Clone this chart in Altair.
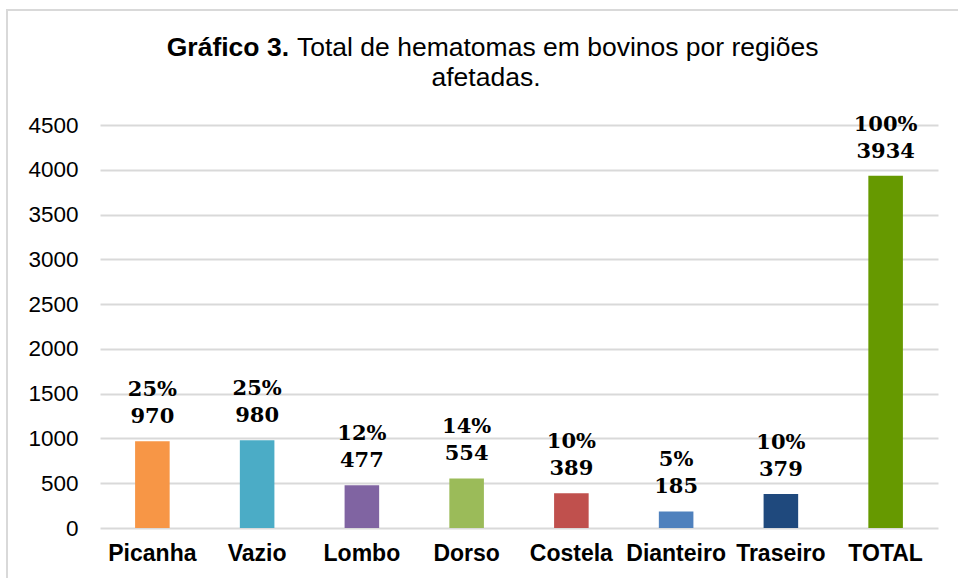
import altair as alt
import pandas as pd

categories = ["Picanha", "Vazio", "Lombo", "Dorso", "Costela", "Dianteiro", "Traseiro", "TOTAL"]
values = [970, 980, 477, 554, 389, 185, 379, 3934]
percents = ["25%", "25%", "12%", "14%", "10%", "5%", "10%", "100%"]
colors = ["#F79646", "#4BACC6", "#8064A2", "#9BBB59", "#C0504D", "#4F81BD", "#1F497D", "#669900"]
y_ticks = [0, 500, 1000, 1500, 2000, 2500, 3000, 3500, 4000, 4500]

df = pd.DataFrame({
    "cat": categories,
    "val": values,
    "pct": percents,
    "label": [[p, str(v)] for p, v in zip(percents, values)],
})
one = pd.DataFrame({"k": [0]})

W, H = 838, 403

x = alt.X("cat:N", sort=categories, title=None,
          scale=alt.Scale(paddingInner=0.67, paddingOuter=0.335),
          axis=alt.Axis(labelAngle=0, labelFont="Liberation Sans", labelFontSize=23,
                        labelFontWeight="bold", labelColor="#000000", labelPadding=14,
                        domain=False, ticks=False))
y = alt.Y("val:Q", title=None,
          scale=alt.Scale(domain=[0, 4500], nice=False),
          axis=alt.Axis(values=y_ticks, format="d", labelFont="Liberation Sans", labelFontSize=22.5,
                        labelColor="#000000", labelPadding=22, domain=False, ticks=False,
                        gridColor="#D9D9D9", gridWidth=2))

bars = alt.Chart(df).mark_bar().encode(
    x=x, y=y,
    color=alt.Color("cat:N", sort=categories, scale=alt.Scale(domain=categories, range=colors), legend=None),
)

labels = alt.Chart(df).mark_text(
    font="DejaVu Serif", fontSize=21, fontWeight="bold", color="#000000",
    baseline="bottom", dy=-41, lineHeight=27,
).encode(x=alt.X("cat:N", sort=categories), y="val:Q", text="label")

border = alt.Chart(one).mark_rect(fill=None, stroke="#D9D9D9", strokeWidth=2).encode(
    x=alt.value(-93), x2=alt.value(W + 40), y=alt.value(-115), y2=alt.value(H + 80)
)

title_bold = alt.Chart(one).mark_text(
    font="Liberation Sans", fontSize=26.5, fontWeight="bold", align="right", baseline="middle", color="#000000"
).encode(x=alt.value(189), y=alt.value(-77), text=alt.value("Gráfico 3."))

title_rest = alt.Chart(one).mark_text(
    font="Liberation Sans", fontSize=26.5, align="left", baseline="middle", color="#000000"
).encode(x=alt.value(197), y=alt.value(-77), text=alt.value("Total de hematomas em bovinos por regiões"))

title_line2 = alt.Chart(one).mark_text(
    font="Liberation Sans", fontSize=26.5, align="center", baseline="middle", color="#000000"
).encode(x=alt.value(386), y=alt.value(-47), text=alt.value("afetadas."))

chart = alt.layer(border, bars, labels, title_bold, title_rest, title_line2).properties(
    width=W, height=H,
    autosize=alt.AutoSizeParams(type="none"),
    padding={"left": 100, "top": 125, "right": 20, "bottom": 50},
    background="#FFFFFF",
).configure_view(stroke=None)

chart.save("out.html", embed_options={"renderer": "svg", "actions": False})
